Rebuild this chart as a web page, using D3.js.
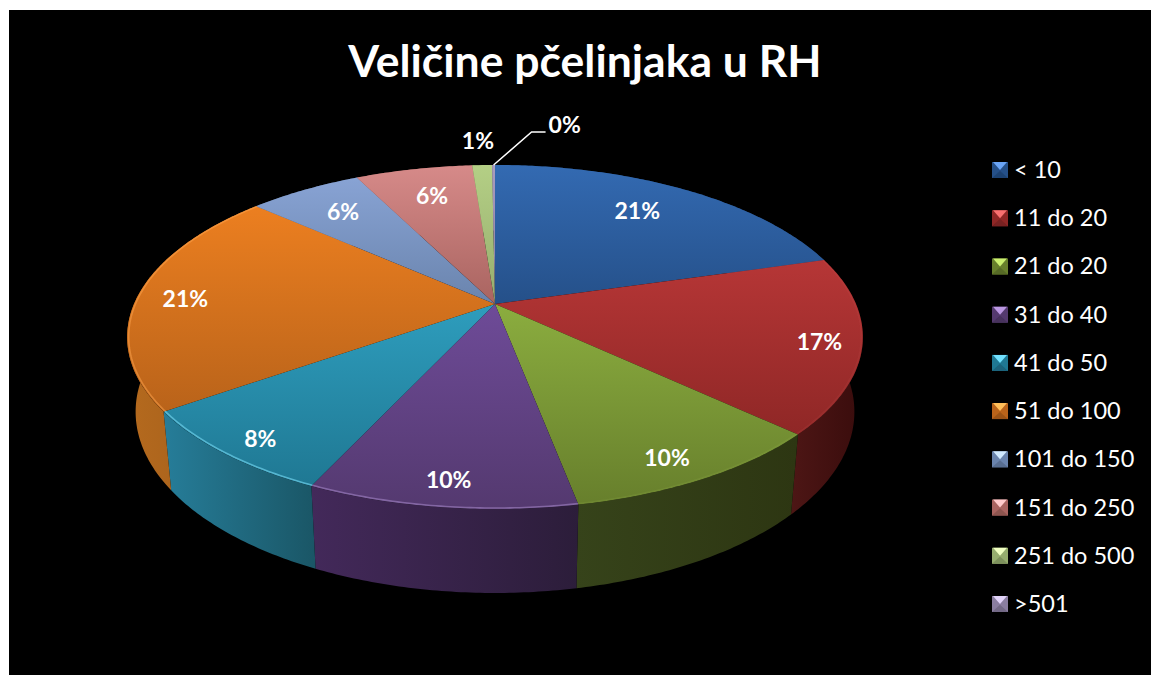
<!DOCTYPE html>
<html lang="hr">
<head>
<meta charset="UTF-8">
<title>Veličine pčelinjaka u RH</title>
<script src="https://d3js.org/d3.v7.min.js"></script>
<style>
  body { margin: 0; background: #fff; }
  svg { display: block; }
  text { font-family: Lato, 'Open Sans', sans-serif; fill: #fff; }
</style>
</head>
<body>
<svg id="chart" width="1151" height="675"></svg>
<script>
  const titleText = "Veličine pčelinjaka u RH";
  const categories = ["< 10", "11 do 20", "21 do 20", "31 do 40", "41 do 50", "51 do 100", "101 do 150", "151 do 250", "251 do 500", ">501"];
  const shares = [20.5, 16.5, 10.0, 9.9, 8.3, 21.4, 6.0, 6.2, 1.05, 0.15];
  const labels = ["21%", "17%", "10%", "10%", "8%", "21%", "6%", "6%", "1%", "0%"];

  // how far out along the slice each label sits (1 = on the rim), then a small nudge in px
  const labelRadius = [0.77, 0.89, 0.89, 0.89, 0.90, 0.87, 0.78, 0.77, 1.21, 1];
  const labelNudgeX = [-7, -1, -10, 1, 5, 1, 1, 2, -2, 0];
  const labelNudgeY = [-2, 2, 2, 0, 3, 3, 0, 0, 0, 0];

  const topLight = ["#336ab2", "#b63636", "#8bad3f", "#6e4b98", "#2e9dbd", "#ec7f20", "#88a3d4", "#d68a89", "#b4cf85", "#a89bbf"];
  const topDark = ["#255089", "#8f2726", "#677f2c", "#54396f", "#1f7893", "#b9631a", "#6a84ad", "#a96460", "#96ad6e", "#8a7da0"];
  const sideLeft = ["#1d3f6c", "#4d1615", "#36431a", "#43295a", "#267d99", "#b56a1e", "#4a5f80", "#7a4644", "#6b7d4e", "#5f5572"];
  const sideRight = ["#1a3860", "#390c0c", "#2d3612", "#2c1d3a", "#1a5666", "#9c5a1a", "#44587a", "#703f3e", "#627246", "#574d68"];
  const rimColor = ["#5c8fd6", "#d86160", "#b0d060", "#a284c4", "#63c4df", "#ffa54d", "#b5cbef", "#eeb0b0", "#d0e6a8", "#c4b8d8"];
  const rimOpacity = [0, 0.1, 0.1, 0.6, 0.8, 0.5, 0, 0, 0, 0];

  const svg = d3.select("#chart");
  const defs = svg.append("defs");

  svg.append("rect").attr("x", 9).attr("y", 10).attr("width", 1142).attr("height", 665).attr("fill", "#000");

  svg.append("text")
    .attr("x", 585).attr("y", 77)
    .attr("text-anchor", "middle")
    .attr("font-size", 44.5)
    .attr("font-weight", 700)
    .text(titleText);

  // perspective view of the disc: centre sits above the middle of the ellipse
  const cx = 495, cy = 304, scaleU = 361, scaleV = 165.7, tilt = 0.192;
  const depthX = 0.977, depthY = 1.053, depthOffset = 377;

  function topPoint(angle, r = 1) {
    const u = r * Math.sin(angle), v = -r * Math.cos(angle);
    const w = 1 - tilt * v;
    return [cx + scaleU * u / w, cy + scaleV * v / w];
  }
  function bottomPoint(angle) {
    const p = topPoint(angle);
    return [cx + (p[0] - cx) * depthX, depthOffset + (p[1] - cy) * depthY];
  }

  const pie = d3.pie().sort(null).value(d => d);
  const arcs = pie(shares);
  const line = d3.line();

  function arcAngles(d) {
    const n = Math.max(2, Math.ceil((d.endAngle - d.startAngle) * 90));
    return d3.range(n + 1).map(i => d.startAngle + (d.endAngle - d.startAngle) * i / n);
  }

  arcs.forEach((d, i) => {
    const top = defs.append("linearGradient").attr("id", "top" + i)
      .attr("x1", 0).attr("y1", 0).attr("x2", 0).attr("y2", 1);
    top.append("stop").attr("offset", 0).attr("stop-color", topLight[i]);
    top.append("stop").attr("offset", 1).attr("stop-color", topDark[i]);
    const side = defs.append("linearGradient").attr("id", "side" + i)
      .attr("x1", 0).attr("y1", 0).attr("x2", 1).attr("y2", 0);
    side.append("stop").attr("offset", 0).attr("stop-color", sideLeft[i]);
    side.append("stop").attr("offset", 1).attr("stop-color", sideRight[i]);
  });

  const soft = defs.append("filter").attr("id", "soft");
  soft.append("feGaussianBlur").attr("stdDeviation", 0.7);

  // walls first, the top faces cover whatever is behind
  svg.append("g").selectAll("path").data(arcs).join("path")
    .attr("d", d => {
      const angles = arcAngles(d);
      return line(angles.map(a => topPoint(a)).concat(angles.slice().reverse().map(a => bottomPoint(a)))) + "Z";
    })
    .attr("fill", (d, i) => `url(#side${i})`);

  svg.append("g").selectAll("path").data(arcs).join("path")
    .attr("d", d => line([[cx, cy]].concat(arcAngles(d).map(a => topPoint(a)))) + "Z")
    .attr("fill", (d, i) => `url(#top${i})`);

  // thin light bevel along the front of the rim
  svg.append("g").selectAll("path").data(arcs).join("path")
    .attr("d", d => line(arcAngles(d).map(a => topPoint(a, 0.996))))
    .attr("fill", "none")
    .attr("stroke", (d, i) => rimColor[i])
    .attr("stroke-width", 1.6)
    .attr("stroke-opacity", (d, i) => rimOpacity[i])
    .attr("filter", "url(#soft)");

  // leader for the smallest slice
  const lastArc = arcs[arcs.length - 1];
  const leaderStart = topPoint((lastArc.startAngle + lastArc.endAngle) / 2);
  const leaderMid = [leaderStart[0] + 38, leaderStart[1] - 33];
  const leaderEnd = [leaderMid[0] + 14, leaderMid[1]];
  svg.append("path")
    .attr("d", line([leaderStart, leaderMid, leaderEnd]))
    .attr("fill", "none").attr("stroke", "#fff").attr("stroke-width", 1.5);

  svg.append("g").selectAll("text").data(arcs).join("text")
    .attr("font-size", 23)
    .attr("font-weight", 700)
    .attr("text-anchor", (d, i) => i === arcs.length - 1 ? "start" : "middle")
    .attr("x", (d, i) => i === arcs.length - 1 ? leaderEnd[0] + 3 : topPoint((d.startAngle + d.endAngle) / 2, labelRadius[i])[0] + labelNudgeX[i])
    .attr("y", (d, i) => i === arcs.length - 1 ? leaderEnd[1] + 1 : topPoint((d.startAngle + d.endAngle) / 2, labelRadius[i])[1] + 8 + labelNudgeY[i])
    .text((d, i) => labels[i]);

  // legend
  const legendY = d3.scalePoint().domain(categories).range([170, 604]);
  const swatch = 16;
  const legend = svg.append("g").selectAll("g").data(categories).join("g")
    .attr("transform", d => `translate(992,${legendY(d) - swatch / 2})`);

  legend.append("rect").attr("width", swatch).attr("height", swatch)
    .attr("fill", (d, i) => topDark[i]);
  legend.append("path")
    .attr("d", line([[0, swatch], [swatch / 2, swatch * 0.55], [swatch, swatch]]) + "Z")
    .attr("fill", (d, i) => d3.color(topDark[i]).darker(0.5))
    .attr("filter", "url(#soft)");
  legend.append("path")
    .attr("d", line([[1, 0], [swatch - 1, 0], [swatch / 2, swatch * 0.5]]) + "Z")
    .attr("fill", (d, i) => d3.color(rimColor[i]).brighter(0.4))
    .attr("filter", "url(#soft)");

  legend.append("text")
    .attr("x", 22).attr("y", swatch / 2 + 8)
    .attr("font-size", 23.5)
    .text(d => d);
</script>
</body>
</html>
